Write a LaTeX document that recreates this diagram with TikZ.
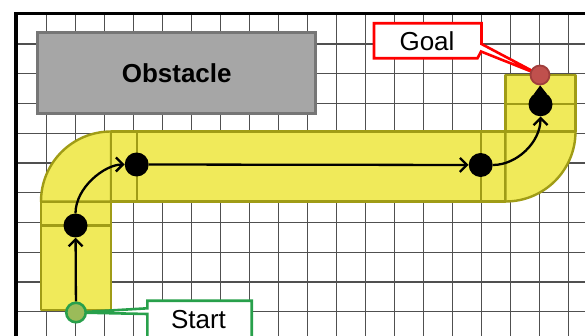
\documentclass[tikz,border=0pt]{standalone}
\usepackage{fontspec}
\setmainfont{Liberation Sans}
\usetikzlibrary{arrows.meta}

\definecolor{gridc}{RGB}{80,80,80}
\definecolor{lanefill}{RGB}{240,234,90}
\definecolor{laneline}{RGB}{160,156,22}
\definecolor{obsfill}{RGB}{166,166,166}
\definecolor{obsline}{RGB}{118,118,118}
\definecolor{goalfill}{RGB}{192,80,77}
\definecolor{goalline}{RGB}{160,62,60}
\definecolor{startfill}{RGB}{155,187,89}
\definecolor{startline}{RGB}{40,160,75}
\definecolor{callred}{RGB}{255,0,0}
\definecolor{callgreen}{RGB}{40,160,75}

\tikzset{
  gridline/.style={draw=gridc, line width=1.4pt},
  lane/.style={fill=lanefill, draw=laneline, line width=2.4pt, line join=round},
  obstacle/.style={rectangle, fill=obsfill, draw=obsline, line width=2.8pt,
    minimum width=278pt, minimum height=81pt, inner sep=0pt,
    font=\fontsize{26}{30}\selectfont\bfseries},
  waypoint/.style={circle, fill=black, minimum size=24pt, inner sep=0pt},
  goalmark/.style={circle, fill=goalfill, draw=goalline, line width=1.8pt,
    minimum size=19pt, inner sep=0pt},
  startmark/.style={circle, fill=startfill, draw=startline, line width=2.6pt,
    minimum size=19.5pt, inner sep=0pt},
  leg/.style={draw=black, line width=2.3pt, -{Straight Barb[length=7pt,width=14pt]}},
  lastleg/.style={draw=black, line width=2.3pt, -{Triangle[length=9pt,width=13pt]}},
  callout/.style={fill=white, line width=2.6pt, line join=miter},
  lbl/.style={inner sep=0pt, font=\fontsize{26}{30}\selectfont}
}

\begin{document}
\begin{tikzpicture}[x=1pt,y=-1pt]
\useasboundingbox (0,0) rectangle (585,336);
\clip (0,0) rectangle (585,336);
\fill[white] (0,0) rectangle (585,336);

% square grid
\foreach \k in {1,...,19}
  \draw[gridline] ({17.7+29*\k},13.5) -- ({17.7+29*\k},340);
\foreach \k in {1,...,10}
  \draw[gridline] (16,{14.3+29.74*\k}) -- (590,{14.3+29.74*\k});

% frame
\draw[line width=3.2pt] (16,345) -- (16,13.5) -- (590,13.5);

% obstacle
\node[obstacle] (obs) at (176.7,73.3) {Obstacle};

% corridor of occupied cells
\filldraw[lane] (41,225.5) rectangle (111,310);
\filldraw[lane] (41,201.5) rectangle (111,225.5);
\filldraw[lane] (111,201.5) -- (41,201.5) arc[start angle=180,end angle=270,radius=70] -- cycle;
\filldraw[lane] (111,131.5) rectangle (136.7,201.5);
\filldraw[lane] (136.7,131.5) rectangle (480.7,201.5);
\filldraw[lane] (480.7,131.5) rectangle (505.5,201.5);
\filldraw[lane] (505.5,131.5) -- (575.5,131.5) arc[start angle=0,end angle=90,radius=70] -- cycle;
\filldraw[lane] (505.5,104.3) rectangle (575.5,131.5);
\filldraw[lane] (505.5,75) rectangle (575.5,104.3);

% end points
\coordinate (goalpt) at (540,75);
\coordinate (startpt) at (76,312.5);

% callouts
\draw[callout, draw=callred] (374,23.3) -- (481.5,23.3) -- (481.5,44) -- (goalpt)
  -- (481,51.5) -- (477.5,58.3) -- (374,58.3) -- cycle;
\node[lbl] (goaltxt) at (427,41) {Goal};

\draw[callout, draw=callgreen] (147.3,300.7) -- (251.7,300.7) -- (251.7,350)
  -- (147.3,350) -- (147.3,314) -- (startpt) -- (147.3,308.3) -- cycle;
\node[lbl] (starttxt) at (198.5,319.5) {Start};

% waypoints and end markers
\node[waypoint] (d1) at (75.5,225.5) {};
\node[waypoint] (d2) at (136.7,164.5) {};
\node[waypoint] (d3) at (480.7,165) {};
\node[waypoint] (d4) at (540.5,104.3) {};
\node[goalmark] (goal) at (goalpt) {};
\node[startmark] (start) at (startpt) {};

% planned path
\draw[leg] (start) -- (d1);
\draw[leg] (d1) .. controls +(0,-38) and +(-32,0) .. (d2);
\draw[leg] (d2) -- (d3);
\draw[leg] (d3) .. controls +(36,0) and +(0,38) .. (d4);
\draw[lastleg] (d4) -- (goal);
\end{tikzpicture}
\end{document}
